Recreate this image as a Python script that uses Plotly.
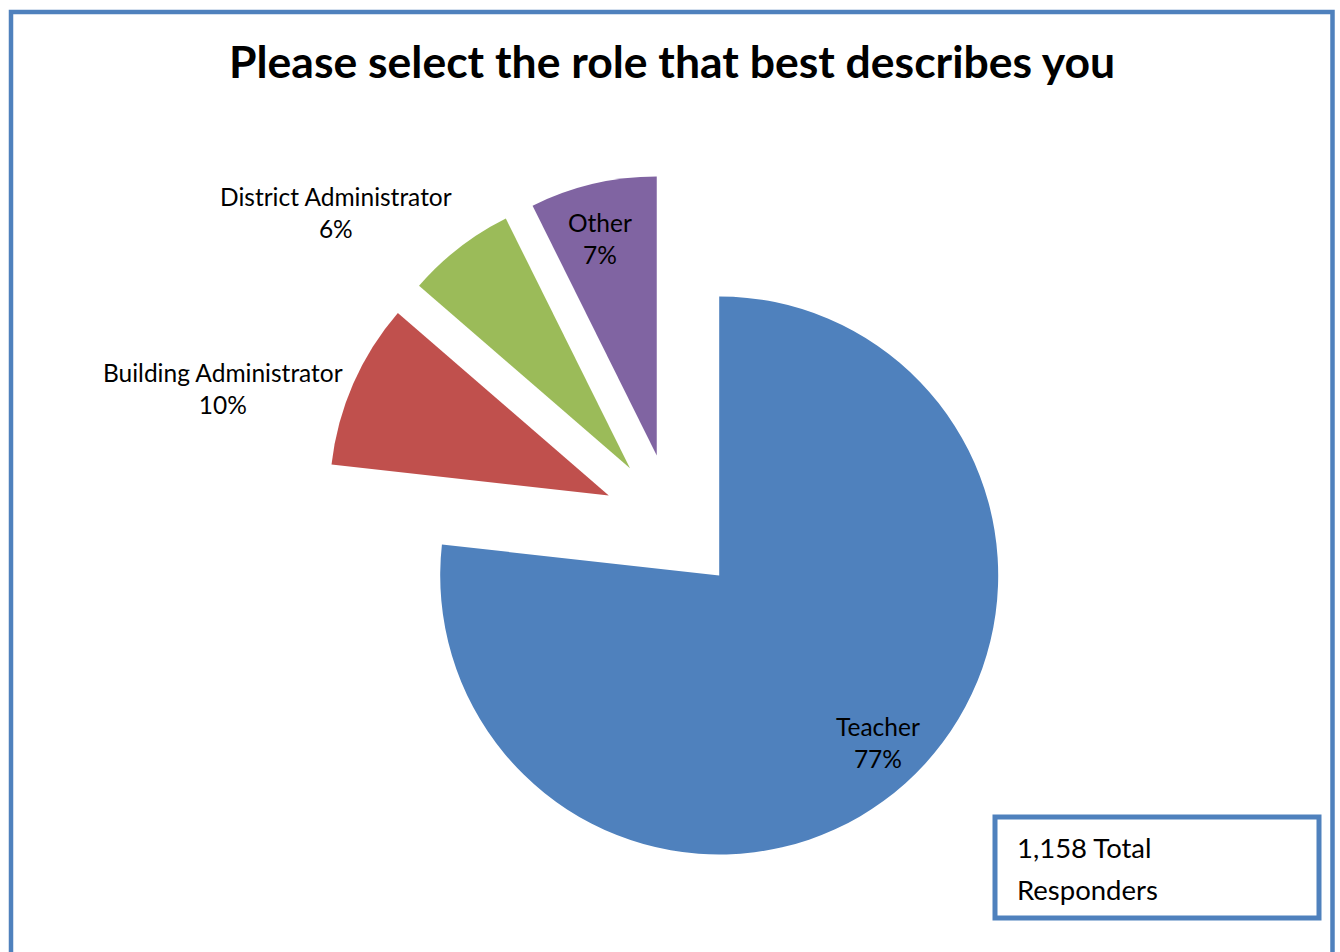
import plotly.graph_objects as go

# ---- data ----
roles = ["Teacher", "Building Administrator", "District Administrator", "Other"]
counts = [889, 111, 73, 85]          # estimated responder counts (total 1,158)
colors = ["#4F81BD", "#C0504D", "#9BBB59", "#8064A2"]
title_text = "Please select the role that best describes you"

# label positions (pixel coords in the 1340x952 canvas)
label_px = [(878, 742), (223, 388), (336, 213), (600, 238)]

W, H = 1340, 952
total = sum(counts)
pcts = [round(c / total * 100) for c in counts]

# pie geometry: centre & radius in px, 25% explosion
cx, cy, r, pull = 672.7, 523.5, 279.0, 0.25
half = r * (1 + pull)
dom_x = [(cx - half) / W, (cx + half) / W]
dom_y = [1 - (cy + half) / H, 1 - (cy - half) / H]

fig = go.Figure(go.Pie(
    labels=roles, values=counts, sort=False, direction="clockwise", rotation=0,
    marker=dict(colors=colors, line=dict(width=0)),
    pull=[pull] * len(roles), textinfo="none", hoverinfo="label+percent",
    domain=dict(x=dom_x, y=dom_y), showlegend=False,
))

LABEL_FONT = dict(family="Lato", size=24.5, color="#000000")
for name, p, (lx, ly) in zip(roles, pcts, label_px):
    fig.add_annotation(text=f"{name}<br>{p}%", x=lx / W, y=1 - ly / H, xref="paper", yref="paper",
                       xanchor="center", yanchor="middle", showarrow=False, align="center",
                       font=LABEL_FONT)

# title
fig.add_annotation(text=f"<b>{title_text}</b>", x=671.5 / W, y=1 - 61 / H, xref="paper", yref="paper",
                   xanchor="center", yanchor="middle", showarrow=False,
                   font=dict(family="Lato", size=44.5, color="#000000"))

# outer chart border
fig.add_shape(type="rect", xref="paper", yref="paper",
              x0=11 / W, x1=1332.5 / W, y0=-0.05, y1=1 - 12 / H,
              line=dict(color="#4F81BD", width=4.5), fillcolor="rgba(0,0,0,0)", layer="above")

# total responders box
fig.add_shape(type="rect", xref="paper", yref="paper",
              x0=995 / W, x1=1319 / W, y0=1 - 918 / H, y1=1 - 817 / H,
              line=dict(color="#4F81BD", width=5), fillcolor="white", layer="above")
box_lines = [f"{total:,} Total", "Responders"]
box_y = [847, 889]
for t, yy in zip(box_lines, box_y):
    fig.add_annotation(text=t, x=1015 / W, y=1 - yy / H, xref="paper", yref="paper",
                       xanchor="left", yanchor="middle", showarrow=False, align="left",
                       font=dict(family="Lato", size=27.5, color="#000000"))

fig.update_layout(width=W, height=H, margin=dict(l=0, r=0, t=0, b=0),
                  paper_bgcolor="white", plot_bgcolor="white")
fig.write_html("out.html")
